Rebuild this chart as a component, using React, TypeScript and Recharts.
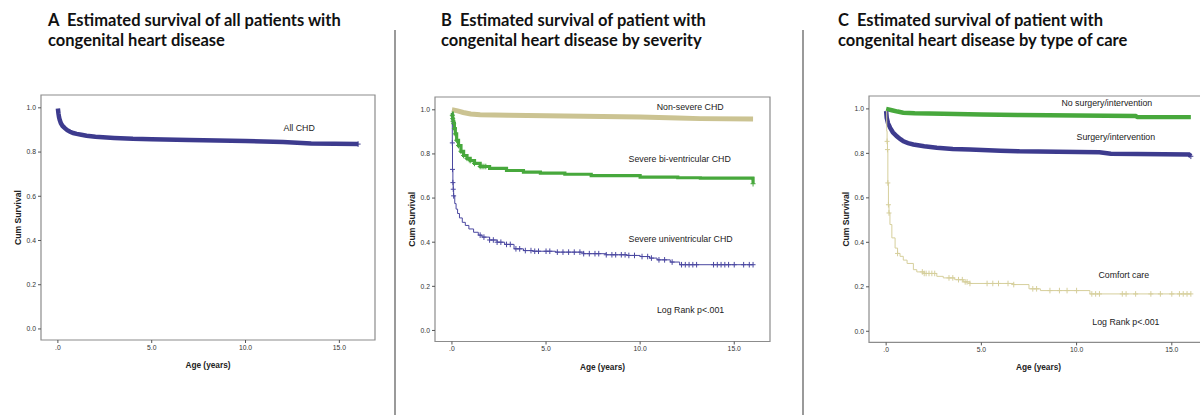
import React from "react";
import { ComposedChart, Line, Scatter, XAxis, YAxis, ReferenceArea, ReferenceDot } from "recharts";

const BLUE = "#3d3b8e";
const GREEN = "#47a83c";
const TAN = "#cbc392";
const TAN_LIGHT = "#d6cf9c";

const X_TICKS = [0, 5, 10, 15];
const Y_TICKS = [0, 0.2, 0.4, 0.6, 0.8, 1.0];

// A: all CHD
const allT = [0, 0.03, 0.06, 0.1, 0.16, 0.25, 0.37, 0.5, 0.65, 0.82, 1.0, 1.25, 1.53, 2.0, 3.0, 4.0, 5.0, 7.0, 10.0, 12.0, 13.5, 16.0];
const allS = [0.997, 0.975, 0.958, 0.945, 0.93, 0.918, 0.908, 0.899, 0.892, 0.886, 0.882, 0.878, 0.874, 0.869, 0.864, 0.86, 0.858, 0.855, 0.85, 0.845, 0.839, 0.836];

// B: by severity
const nonSevT = [0, 0.3, 0.6, 1.0, 1.5, 3, 5, 8, 10, 12, 13.2, 16];
const nonSevS = [1.0, 0.995, 0.988, 0.981, 0.978, 0.975, 0.973, 0.97, 0.967, 0.963, 0.96, 0.958];

const biT = [0, 0.02, 0.04, 0.06, 0.09, 0.13, 0.18, 0.25, 0.35, 0.48, 0.62, 0.8, 0.97, 1.2, 1.5, 2.0, 2.9, 3.8, 4.7, 6.0, 7.4, 10, 12, 13.2, 15.99, 16.0];
const biS = [0.985, 0.975, 0.96, 0.948, 0.937, 0.915, 0.891, 0.862, 0.838, 0.812, 0.793, 0.78, 0.77, 0.757, 0.743, 0.735, 0.725, 0.718, 0.713, 0.708, 0.702, 0.695, 0.692, 0.69, 0.688, 0.665];
const biCensor = [0.02, 0.04, 0.06, 0.09, 0.13, 0.18, 0.25, 0.35, 0.48, 0.62, 0.8, 0.97, 1.2, 1.5, 1.6, 1.7, 1.8, 16.0];

const uniT = [0, 0.02, 0.03, 0.05, 0.07, 0.09, 0.15, 0.22, 0.3, 0.4, 0.55, 0.71, 0.9, 1.15, 1.4, 1.6, 2.0, 2.4, 2.8, 3.3, 3.8, 4.3, 5.5, 7.0, 8.2, 9.3, 10.0, 10.5, 10.9, 11.6, 12.1, 16.0];
const uniS = [0.985, 0.85, 0.73, 0.67, 0.64, 0.61, 0.575, 0.55, 0.53, 0.51, 0.49, 0.476, 0.46, 0.445, 0.432, 0.423, 0.41, 0.4, 0.39, 0.37, 0.362, 0.359, 0.355, 0.348, 0.343, 0.34, 0.335, 0.328, 0.32, 0.31, 0.298, 0.298];
const uniCensor = [0.02, 0.03, 0.05, 0.07, 0.09, 1.5, 1.7, 2.0, 2.2, 2.4, 2.6, 2.9, 3.1, 3.4, 3.6, 3.9, 4.2, 4.4, 4.6, 5.0, 5.2, 5.6, 5.9, 6.2, 6.5, 6.8, 7.0, 7.3, 7.6, 7.8, 8.2, 8.5, 8.7, 9.0, 9.2, 9.4, 9.7, 10.1, 10.4, 10.6, 11.0, 11.3, 11.7, 12.2, 12.4, 12.6, 12.8, 13.0, 13.9, 14.1, 14.3, 14.5, 14.7, 15.0, 15.5, 15.8, 16.0];

// C: by type of care
const noSurgT = [0, 0.3, 0.6, 0.9, 1.5, 3, 5, 7, 10, 13.1, 13.2, 16];
const noSurgS = [1.0, 0.994, 0.988, 0.983, 0.98, 0.978, 0.975, 0.972, 0.97, 0.968, 0.963, 0.963];

const surgT = [0, 0.03, 0.1, 0.21, 0.35, 0.56, 0.75, 0.91, 1.15, 1.43, 2.0, 2.66, 3.5, 4.4, 6.0, 7.0, 9.0, 11.2, 11.8, 15.9, 16.0];
const surgS = [0.99, 0.96, 0.935, 0.915, 0.895, 0.877, 0.864, 0.854, 0.846, 0.84, 0.832, 0.825, 0.82, 0.817, 0.812, 0.809, 0.807, 0.805, 0.798, 0.795, 0.787];

const comfortT = [0, 0.03, 0.05, 0.07, 0.09, 0.12, 0.15, 0.2, 0.3, 0.47, 0.6, 0.73, 0.9, 1.1, 1.43, 1.61, 2.0, 2.66, 3.0, 3.6, 4.05, 4.4, 6.7, 7.5, 8.1, 10.7, 16.0];
const comfortS = [0.99, 0.9, 0.854, 0.817, 0.667, 0.569, 0.532, 0.48, 0.42, 0.374, 0.35, 0.337, 0.32, 0.305, 0.277, 0.267, 0.26, 0.247, 0.24, 0.232, 0.222, 0.215, 0.21, 0.191, 0.183, 0.168, 0.168];
const comfortCensor = [0.05, 0.07, 0.09, 0.12, 0.15, 0.6, 1.9, 2.0, 2.1, 2.25, 2.4, 2.55, 3.3, 3.5, 3.8, 4.0, 4.15, 4.25, 4.4, 5.3, 5.6, 5.9, 6.4, 6.7, 7.7, 7.9, 8.6, 9.1, 9.5, 10.0, 10.8, 11.0, 11.2, 12.4, 12.6, 13.1, 13.9, 14.4, 15.0, 15.4, 15.6, 15.8, 16.0];

const rows = (t: number[], s: number[]) => t.map((x, i) => ({ t: x, s: s[i] }));

// survival value at time x from the step curve
const survAt = (t: number[], s: number[], x: number) => {
  let v = s[0];
  for (let i = 0; i < t.length; i++) if (t[i] <= x) v = s[i];
  return v;
};
const censorRows = (t: number[], s: number[], c: number[]) => c.map((x) => ({ t: x, s: survAt(t, s, x) }));

type Series = {
  key: string;
  t: number[];
  s: number[];
  color: string;
  width: number;
  step?: boolean;
  censor?: number[];
};
type Note = { x: number; y: number; text: string };

const Cross = (props: any) => {
  const { cx, cy, fill } = props;
  if (cx == null || cy == null) return null;
  return <path d={`M${cx - 2.5},${cy}H${cx + 2.5}M${cx},${cy - 2.8}V${cy + 2.8}`} stroke={fill} strokeWidth={1} fill="none" />;
};

const FONT = "'Liberation Sans', Arial, sans-serif";

const YTitle = (props: any) => {
  const { x, y, width, height } = props.viewBox;
  const cx = x + width - 23;
  const cy = y + height / 2;
  return (
    <text x={cx} y={cy} transform={`rotate(-90 ${cx} ${cy})`} textAnchor="middle" dominantBaseline="central"
      fontFamily={FONT} fontWeight="bold" fontSize={8.6} fill="#222">
      Cum Survival
    </text>
  );
};

const XTitle = (props: any) => {
  const { x, y, width } = props.viewBox;
  return (
    <text x={x + width / 2} y={y + 25} textAnchor="middle" dominantBaseline="central"
      fontFamily={FONT} fontWeight="bold" fontSize={8.3} fill="#222">
      Age (years)
    </text>
  );
};

function Panel({ left, top, w, h, series, notes, title, titleLeft }: {
  left: number; top: number; w: number; h: number; series: Series[]; notes: Note[]; title: string[]; titleLeft: number;
}) {
  return (
    <>
      <div style={{ position: "absolute", left: titleLeft, top: 10, fontFamily: "Lato, 'Open Sans', sans-serif", fontWeight: 700, fontSize: 16.5, lineHeight: "20px", color: "#111", whiteSpace: "nowrap" }}>
        {title.map((l, i) => <div key={i} style={{ whiteSpace: "pre" }}>{l}</div>)}
      </div>
      <div style={{ position: "absolute", left: left - 50, top: top - 10 }}>
        <ComposedChart width={w + 60} height={h + 50} margin={{ top: 10, right: 10, bottom: 0, left: 10 }}>
          <XAxis type="number" dataKey="t" domain={[-0.9, 16.9]} ticks={X_TICKS} allowDataOverflow
            tickFormatter={(v: number) => (v === 0 ? ".0" : v.toFixed(1))}
            axisLine={false} tickLine={{ stroke: "#555" }} tickSize={3} tickMargin={2} height={40}
            tick={{ fontSize: 6.8, fill: "#333", fontFamily: FONT }} label={{ content: XTitle }} />
          <YAxis type="number" dataKey="s" domain={[-0.05, 1.058]} ticks={Y_TICKS} allowDataOverflow
            tickFormatter={(v: number) => v.toFixed(1)}
            axisLine={false} tickLine={{ stroke: "#555" }} tickSize={3} tickMargin={2} width={40}
            tick={{ fontSize: 6.8, fill: "#333", fontFamily: FONT }} label={{ content: YTitle }} />
          <ReferenceArea x1={-0.9} x2={16.9} y1={-0.05} y2={1.058} fill="none" stroke="#8c8c8c" strokeWidth={1.2} />
          {series.map((sr) => (
            <Line key={sr.key} data={rows(sr.t, sr.s)} dataKey="s" type={sr.step ? "stepAfter" : "linear"}
              stroke={sr.color} strokeWidth={sr.width} dot={false} activeDot={false} isAnimationActive={false} />
          ))}
          {series.filter((sr) => sr.censor).map((sr) => (
            <Scatter key={sr.key + "-c"} data={censorRows(sr.t, sr.s, sr.censor!)} dataKey="s" fill={sr.color}
              shape={Cross} isAnimationActive={false} />
          ))}
          {notes.map((n) => (
            <ReferenceDot key={n.text} x={n.x} y={n.y} r={0} fill="none" stroke="none"
              label={{ value: n.text, position: "center", fontSize: 8.8, fill: "#222", fontFamily: FONT }} />
          ))}
        </ComposedChart>
      </div>
    </>
  );
}

export default function App() {
  return (
    <div style={{ position: "absolute", left: 0, top: 0, width: 1200, height: 415, overflow: "hidden", background: "#fff" }}>
      <div style={{ position: "absolute", left: 394, top: 30, width: 1.5, height: 385, background: "#9a9a9a" }} />
      <div style={{ position: "absolute", left: 802, top: 30, width: 1.5, height: 385, background: "#9a9a9a" }} />
      <Panel
        left={41} top={94.5} w={334} h={245}
        titleLeft={48}
        title={["A  Estimated survival of all patients with", "congenital heart disease"]}
        series={[{ key: "all", t: allT, s: allS, color: BLUE, width: 4.5, censor: [16.0] }]}
        notes={[{ x: 12.86, y: 0.911, text: "All CHD" }]}
      />
      <Panel
        left={435} top={96.5} w={335} h={244.5}
        titleLeft={441}
        title={["B  Estimated survival of patient with", "congenital heart disease by severity"]}
        series={[
          { key: "non", t: nonSevT, s: nonSevS, color: TAN, width: 5 },
          { key: "bi", t: biT, s: biS, color: GREEN, width: 3.2, step: true, censor: biCensor },
          { key: "uni", t: uniT, s: uniS, color: "#4a47a0", width: 1, step: true, censor: uniCensor },
        ]}
        notes={[
          { x: 12.66, y: 1.015, text: "Non-severe CHD" },
          { x: 12.1, y: 0.779, text: "Severe bi-ventricular CHD" },
          { x: 12.15, y: 0.417, text: "Severe univentricular CHD" },
          { x: 12.68, y: 0.095, text: "Log Rank p<.001" },
        ]}
      />
      <Panel
        left={869} top={96.4} w={339} h={246.4}
        titleLeft={838}
        title={["C  Estimated survival of patient with", "congenital heart disease by type of care"]}
        series={[
          { key: "nosurg", t: noSurgT, s: noSurgS, color: GREEN, width: 4.5 },
          { key: "surg", t: surgT, s: surgS, color: BLUE, width: 4.5, censor: [16.0] },
          { key: "comfort", t: comfortT, s: comfortS, color: TAN_LIGHT, width: 1, step: true, censor: comfortCensor },
        ]}
        notes={[
          { x: 11.59, y: 1.028, text: "No surgery/intervention" },
          { x: 12.06, y: 0.875, text: "Surgery/intervention" },
          { x: 12.48, y: 0.255, text: "Comfort care" },
          { x: 12.59, y: 0.044, text: "Log Rank p<.001" },
        ]}
      />
    </div>
  );
}
